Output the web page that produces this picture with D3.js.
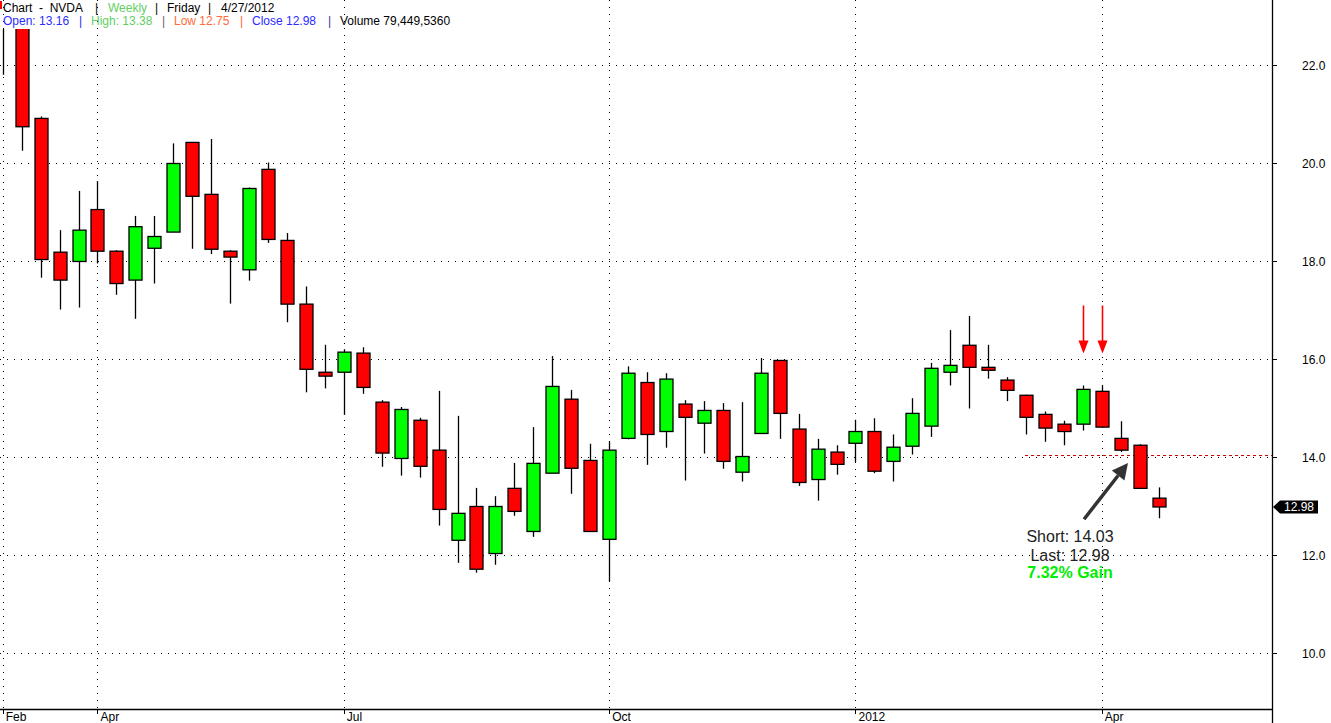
<!DOCTYPE html>
<html>
<head>
<meta charset="utf-8">
<script src="https://cdn.jsdelivr.net/npm/d3@7"></script>
<style>
  html, body { margin: 0; padding: 0; background: #fff; }
  svg { display: block; font-family: "Liberation Sans", Arial, sans-serif; }
</style>
</head>
<body>
<svg id="chart" width="1331" height="723"></svg>
<script>
// ---------- DATA ----------
const weeks = [
  "2011-02-25","2011-03-04","2011-03-11","2011-03-18","2011-03-25",
  "2011-04-01","2011-04-08","2011-04-15","2011-04-22","2011-04-29",
  "2011-05-06","2011-05-13","2011-05-20","2011-05-27",
  "2011-06-03","2011-06-10","2011-06-17","2011-06-24",
  "2011-07-01","2011-07-08","2011-07-15","2011-07-22","2011-07-29",
  "2011-08-05","2011-08-12","2011-08-19","2011-08-26",
  "2011-09-02","2011-09-09","2011-09-16","2011-09-23","2011-09-30",
  "2011-10-07","2011-10-14","2011-10-21","2011-10-28",
  "2011-11-04","2011-11-11","2011-11-18","2011-11-25",
  "2011-12-02","2011-12-09","2011-12-16","2011-12-23","2011-12-30",
  "2012-01-06","2012-01-13","2012-01-20","2012-01-27",
  "2012-02-03","2012-02-10","2012-02-17","2012-02-24",
  "2012-03-02","2012-03-09","2012-03-16","2012-03-23","2012-03-30",
  "2012-04-06","2012-04-13","2012-04-20","2012-04-27"
];
const opens = [
  23.10,23.20,20.91,18.18,17.99,19.05,18.20,17.61,18.26,18.59,
  20.42,19.36,18.20,17.82,19.87,18.42,17.12,15.73,15.73,16.12,
  15.12,13.97,14.75,14.14,12.30,12.99,12.03,13.36,12.48,13.67,
  15.18,13.93,12.32,14.38,15.52,14.52,15.08,14.69,14.95,13.69,
  14.48,15.97,14.57,13.54,14.10,14.28,14.52,13.91,14.22,14.63,
  15.73,16.28,15.83,15.57,15.26,14.87,14.67,14.67,15.34,14.38,
  14.24,13.16
];
const highs = [
  23.40,23.40,20.95,18.63,19.43,19.63,18.22,18.92,18.92,20.40,
  20.43,20.49,18.22,19.50,20.01,18.57,17.48,16.29,16.20,16.24,
  15.16,15.02,14.80,15.35,14.84,13.37,13.20,13.88,14.61,16.06,
  15.37,14.27,14.32,15.85,15.73,15.71,15.16,15.14,15.10,15.12,
  16.02,15.98,14.88,14.37,14.24,14.76,14.79,14.46,15.20,15.92,
  16.59,16.88,16.29,15.63,15.27,14.93,14.74,15.46,15.46,14.73,
  14.26,13.38
];
const lows = [
  21.80,20.25,17.66,17.01,17.05,17.95,17.31,16.82,17.54,18.59,
  18.25,18.14,17.13,17.60,18.37,16.75,15.32,15.40,14.86,15.29,
  13.80,13.62,13.58,12.60,11.84,11.64,11.80,12.80,12.37,13.67,
  13.25,12.48,11.46,14.36,13.84,14.19,13.52,14.07,13.76,13.50,
  14.48,14.37,13.41,13.11,13.64,13.90,13.67,13.50,14.05,14.41,
  15.46,14.99,15.60,15.14,14.46,14.31,14.24,14.54,14.60,14.10,
  13.36,12.75
];
const closes = [
  22.90,20.74,18.03,17.61,18.63,18.20,17.54,18.70,18.50,19.99,
  19.32,18.24,18.08,19.48,18.44,17.12,15.79,15.65,16.14,15.42,
  14.08,14.97,13.81,12.93,12.85,11.71,12.99,12.89,13.87,15.44,
  13.77,12.48,14.14,15.71,14.46,15.59,14.81,14.95,13.91,14.01,
  15.71,14.89,13.48,14.16,13.85,14.52,13.71,14.20,14.89,15.81,
  15.87,15.83,15.77,15.36,14.81,14.59,14.52,15.38,14.61,14.14,
  13.36,12.98
];
const yTicks = [10, 12, 14, 16, 18, 20, 22];
const monthTickWeeks = ["2011-02-25","2011-04-01","2011-07-01","2011-10-07","2012-01-06","2012-04-06"];
const monthTickLabels = ["Feb","Apr","Jul","Oct","2012","Apr"];
const signalWeeks = ["2012-03-30","2012-04-06"];
const shortPrice = 14.03;
const shortLineStartWeek = "2012-03-09";
const lastPrice = 12.98;
const gainPct = 7.32;

// ---------- LAYOUT ----------
const svg = d3.select("#chart");
const W = 1331, H = 723;
const axisX = 1272, axisY = 709, plotTop = 29;

const idx = weeks.map((d, i) => i);
const x = d3.scaleLinear().domain([0, weeks.length - 1]).range([2.7, 1158.7]);
const xw = w => x(weeks.indexOf(w));
const y = d3.scaleLinear().domain([10, 22]).range([653, 65]);

// clip for candles
svg.append("defs").append("clipPath").attr("id", "plotclip")
  .append("rect").attr("x", 0).attr("y", plotTop).attr("width", axisX).attr("height", axisY - plotTop);

// grid
const grid = svg.append("g");
grid.selectAll("line.h").data(yTicks).join("line")
  .attr("x1", 0).attr("x2", axisX)
  .attr("y1", d => Math.round(y(d)) + 0.5).attr("y2", d => Math.round(y(d)) + 0.5)
  .attr("stroke", "#000").attr("stroke-width", 1).attr("stroke-dasharray", "1,6");
grid.selectAll("line.v").data(monthTickWeeks).join("line")
  .attr("x1", d => Math.round(xw(d)) + 0.5).attr("x2", d => Math.round(xw(d)) + 0.5)
  .attr("y1", 0).attr("y2", axisY)
  .attr("stroke", "#000").attr("stroke-width", 1).attr("stroke-dasharray", "1,6");

// short dashed line
svg.append("line")
  .attr("x1", xw(shortLineStartWeek) - 1).attr("x2", axisX)
  .attr("y1", y(shortPrice)).attr("y2", y(shortPrice))
  .attr("stroke", "#cc0000").attr("stroke-width", 1).attr("stroke-dasharray", "3,3");

// candles
const cg = svg.append("g").attr("clip-path", "url(#plotclip)");
const bw = 13;
cg.selectAll("line.wick").data(idx).join("line")
  .attr("x1", i => Math.round(x(i)) + 0.5).attr("x2", i => Math.round(x(i)) + 0.5)
  .attr("y1", i => y(highs[i])).attr("y2", i => y(lows[i]))
  .attr("stroke", "#000").attr("stroke-width", 1.3);
cg.selectAll("rect.body").data(idx).join("rect")
  .attr("x", i => Math.round(x(i)) - 6)
  .attr("width", bw)
  .attr("y", i => y(Math.max(opens[i], closes[i])))
  .attr("height", i => Math.max(2, Math.abs(y(opens[i]) - y(closes[i]))))
  .attr("fill", i => closes[i] >= opens[i] ? "#00ff00" : "#ff0000")
  .attr("stroke", "#000").attr("stroke-width", 1.3);

// red signal arrows
const sig = svg.append("g");
signalWeeks.forEach(w => {
  const cx = Math.round(xw(w)) + 0.5;
  const i = weeks.indexOf(w);
  const tip = y(highs[i]) - 32;
  sig.append("line").attr("x1", cx).attr("x2", cx)
    .attr("y1", tip - 48).attr("y2", tip - 8)
    .attr("stroke", "#ff0000").attr("stroke-width", 1.6);
  sig.append("path")
    .attr("d", `M${cx - 5},${tip - 13} L${cx + 5},${tip - 13} L${cx},${tip} Z`)
    .attr("fill", "#ff0000");
});

// axes lines
svg.append("line").attr("x1", 0).attr("x2", axisX).attr("y1", axisY + 0.5).attr("y2", axisY + 0.5)
  .attr("stroke", "#000").attr("stroke-width", 1.3);
svg.append("line").attr("x1", axisX + 0.5).attr("x2", axisX + 0.5).attr("y1", 0).attr("y2", H)
  .attr("stroke", "#000").attr("stroke-width", 1.3);

// y ticks
const ya = svg.append("g");
ya.selectAll("line").data(yTicks).join("line")
  .attr("x1", axisX).attr("x2", axisX + 5)
  .attr("y1", d => Math.round(y(d)) + 0.5).attr("y2", d => Math.round(y(d)) + 0.5)
  .attr("stroke", "#000");
ya.selectAll("text").data(yTicks).join("text")
  .attr("x", 1302).attr("y", d => y(d) + 4.5)
  .attr("font-size", 12).attr("fill", "#000")
  .text(d => d3.format(".1f")(d));

// x ticks
const xa = svg.append("g");
xa.selectAll("line").data(monthTickWeeks).join("line")
  .attr("x1", d => Math.round(xw(d)) + 0.5).attr("x2", d => Math.round(xw(d)) + 0.5)
  .attr("y1", axisY).attr("y2", axisY + 5)
  .attr("stroke", "#000");
xa.selectAll("text").data(monthTickWeeks).join("text")
  .attr("x", d => xw(d) + 3).attr("y", 720.5)
  .attr("font-size", 12).attr("fill", "#000")
  .text((d, i) => monthTickLabels[i]);

// last price label
const ly = y(lastPrice);
svg.append("path")
  .attr("d", `M${axisX + 1},${ly} L${axisX + 8},${ly - 6.5} L${axisX + 46},${ly - 6.5} L${axisX + 46},${ly + 6.5} L${axisX + 8},${ly + 6.5} Z`)
  .attr("fill", "#000");
svg.append("text").attr("x", axisX + 27).attr("y", ly + 4.3).attr("text-anchor", "middle")
  .attr("font-size", 12).attr("fill", "#fff").text(lastPrice.toFixed(2));

// gray arrow annotation
const ax1 = x(57.06), ay1 = y(12.73), ax2 = x(59.38), ay2 = y(13.88);
const ang = Math.atan2(ay2 - ay1, ax2 - ax1);
const hl = 16, hw = 8;
const bx = ax2 - hl * Math.cos(ang), by = ay2 - hl * Math.sin(ang);
svg.append("line").attr("x1", ax1).attr("y1", ay1).attr("x2", bx).attr("y2", by)
  .attr("stroke", "#333").attr("stroke-width", 3.5);
svg.append("path")
  .attr("d", `M${ax2},${ay2} L${bx + hw * Math.sin(ang)},${by - hw * Math.cos(ang)} L${bx - hw * Math.sin(ang)},${by + hw * Math.cos(ang)} Z`)
  .attr("fill", "#333");

// annotation text
const tx = x(56.32), ty = y(12.26);
svg.append("text").attr("x", tx).attr("y", ty).attr("text-anchor", "middle")
  .attr("font-size", 16).attr("fill", "#222").text("Short: " + shortPrice.toFixed(2));
svg.append("text").attr("x", tx).attr("y", ty + 18.4).attr("text-anchor", "middle")
  .attr("font-size", 16).attr("fill", "#222").text("Last: " + lastPrice.toFixed(2));
svg.append("text").attr("x", tx).attr("y", ty + 36).attr("text-anchor", "middle")
  .attr("font-size", 16).attr("font-weight", "bold").attr("fill", "#00ee00").text(gainPct.toFixed(2) + "% Gain");

// header
svg.append("rect").attr("x", 0).attr("y", 1).attr("width", 2).attr("height", 8).attr("fill", "#ff0000");
const last = weeks.length - 1;
const row1 = [
  {t: "Chart  -  NVDA", x: 3, c: "#000"},
  {t: "|", x: 95, c: "#000"},
  {t: "Weekly", x: 108, c: "#5fcf5f"},
  {t: "|", x: 155, c: "#000"},
  {t: "Friday", x: 167, c: "#000"},
  {t: "|", x: 208, c: "#000"},
  {t: "4/27/2012", x: 221, c: "#000"}
];
const row2 = [
  {t: "Open: " + opens[last].toFixed(2), x: 3, c: "#2b2bff"},
  {t: "|", x: 79, c: "#2b2bff"},
  {t: "High: " + highs[last].toFixed(2), x: 91, c: "#5fcf5f"},
  {t: "|", x: 162, c: "#666"},
  {t: "Low " + lows[last].toFixed(2), x: 174, c: "#ff6a3a"},
  {t: "|", x: 240, c: "#ff6a3a"},
  {t: "Close " + closes[last].toFixed(2), x: 252, c: "#2b2bff"},
  {t: "|", x: 328, c: "#3a3a9a"},
  {t: "Volume 79,449,5360", x: 340, c: "#000"}
];
const hg = svg.append("g").attr("font-size", 12);
hg.selectAll("text.r1").data(row1).join("text")
  .attr("x", d => d.x).attr("y", 11.5).attr("fill", d => d.c).attr("xml:space", "preserve")
  .style("white-space", "pre").text(d => d.t);
hg.selectAll("text.r2").data(row2).join("text")
  .attr("x", d => d.x).attr("y", 25).attr("fill", d => d.c)
  .text(d => d.t);
</script>
</body>
</html>
